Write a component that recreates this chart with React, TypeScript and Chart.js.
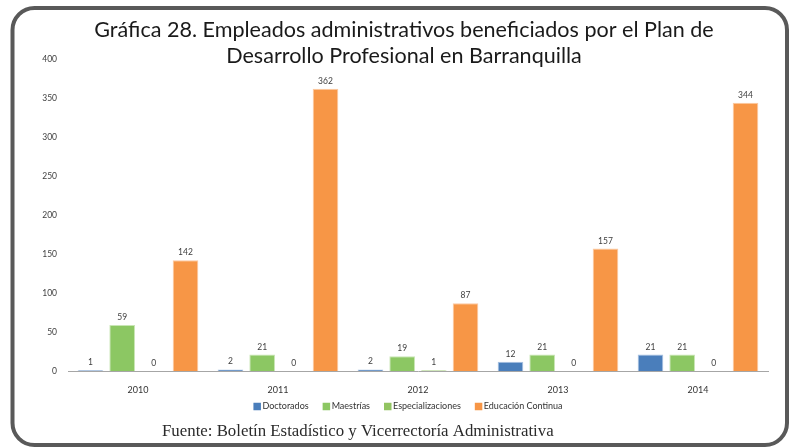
import React, { useEffect, useRef } from 'react';
import { Chart, registerables } from 'chart.js';

Chart.register(...registerables);

const categories = ['2010', '2011', '2012', '2013', '2014'];
const seriesNames = ['Doctorados', 'Maestrías', 'Especializaciones', 'Educación Continua'];
const doctorados = [1, 2, 2, 12, 21];
const maestrias = [59, 21, 19, 21, 21];
const especializaciones = [0, 0, 1, 0, 0];
const educacionContinua = [142, 362, 87, 157, 344];
const yMax = 400;
const yStep = 50;
const titleLines = [
  'Gráfica 28. Empleados administrativos beneficiados por el Plan de',
  'Desarrollo Profesional en Barranquilla',
];
const footerText = 'Fuente: Boletín Estadístico y Vicerrectoría Administrativa';

const fillColors = ['#4a7ebb', '#8cc763', '#92c462', '#f79646'];
const edgeColors = ['#a9c2e2', '#c9e6b5', '#cce6b6', '#fbc9a3'];

const SANS = 'Lato, "Open Sans", sans-serif';
const SERIF = '"Liberation Serif", "DejaVu Serif", serif';

function fitFont(ctx: CanvasRenderingContext2D, text: string, family: string, target: number, base: number) {
  ctx.font = `${base}px ${family}`;
  const w = ctx.measureText(text).width;
  return (base * target) / w;
}

const decorPlugin = {
  id: 'decor',
  beforeDraw(chart: any) {
    const ctx: CanvasRenderingContext2D = chart.ctx;
    ctx.save();
    ctx.fillStyle = '#ffffff';
    ctx.fillRect(0, 0, chart.width, chart.height);
    ctx.strokeStyle = '#595959';
    ctx.lineWidth = 4;
    ctx.beginPath();
    (ctx as any).roundRect(12.5, 8, 774.5, 437, 22);
    ctx.stroke();
    ctx.restore();
  },
  afterDatasetsDraw(chart: any) {
    const ctx: CanvasRenderingContext2D = chart.ctx;
    ctx.save();
    ctx.font = `8.5px ${SANS}`;
    ctx.fillStyle = '#404040';
    ctx.textAlign = 'center';
    ctx.textBaseline = 'alphabetic';
    chart.data.datasets.forEach((ds: any, di: number) => {
      const meta = chart.getDatasetMeta(di);
      meta.data.forEach((el: any, i: number) => {
        ctx.fillText(String(ds.data[i]), el.x, el.y - 5);
      });
    });
    ctx.restore();
  },
  afterDraw(chart: any) {
    const ctx: CanvasRenderingContext2D = chart.ctx;
    ctx.save();
    // title
    const tSize = fitFont(ctx, titleLines[0], SANS, 620, 22);
    ctx.font = `${tSize}px ${SANS}`;
    ctx.fillStyle = '#1a1a1a';
    ctx.textAlign = 'center';
    ctx.textBaseline = 'alphabetic';
    ctx.fillText(titleLines[0], 404, 37);
    ctx.fillText(titleLines[1], 404, 63);

    // legend
    ctx.font = `9px ${SANS}`;
    ctx.textAlign = 'left';
    ctx.textBaseline = 'middle';
    const box = 7.5;
    const gapAfterBox = 1.5;
    const gapItems = 14;
    const widths = seriesNames.map((n) => ctx.measureText(n).width);
    const total = widths.reduce((a, w) => a + box + gapAfterBox + w, 0) + gapItems * (seriesNames.length - 1);
    let x = 408 - total / 2;
    const cy = 406.5;
    seriesNames.forEach((n, i) => {
      ctx.fillStyle = fillColors[i];
      ctx.fillRect(x, cy - box / 2, box, box);
      ctx.fillStyle = '#333333';
      ctx.fillText(n, x + box + gapAfterBox, cy);
      x += box + gapAfterBox + widths[i] + gapItems;
    });

    // footer
    const fSize = fitFont(ctx, footerText, SERIF, 392, 15);
    ctx.font = `${fSize}px ${SERIF}`;
    ctx.fillStyle = '#2b2b2b';
    ctx.textAlign = 'left';
    ctx.textBaseline = 'alphabetic';
    ctx.fillText(footerText, 162, 436);
    ctx.restore();
  },
};

export default function App() {
  const canvasRef = useRef<HTMLCanvasElement | null>(null);

  useEffect(() => {
    const canvas = canvasRef.current;
    if (!canvas) return;
    const series = [doctorados, maestrias, especializaciones, educacionContinua];
    const chart = new Chart(canvas, {
      type: 'bar',
      data: {
        labels: categories,
        datasets: series.map((d, i) => ({
          label: seriesNames[i],
          data: d,
          backgroundColor: fillColors[i],
          borderColor: edgeColors[i],
          borderWidth: 1,
          categoryPercentage: 0.905,
          barPercentage: 0.81,
        })),
      },
      options: {
        responsive: false,
        animation: false,
        devicePixelRatio: 1,
        layout: { padding: { left: 28, right: 28, top: 59, bottom: 37 } },
        plugins: {
          legend: { display: false },
          title: { display: false },
          tooltip: { enabled: false },
        },
        scales: {
          x: {
            grid: { display: false, drawTicks: false },
            border: { display: true, color: '#a6a6a6', width: 1 },
            ticks: {
              padding: 14,
              color: '#333333',
              font: { family: SANS, size: 9 },
              maxRotation: 0,
            },
            afterFit: (scale: any) => {
              scale.height = 40;
            },
          },
          y: {
            min: 0,
            max: yMax,
            grid: { display: false, drawTicks: false },
            border: { display: false },
            ticks: {
              stepSize: yStep,
              padding: 11,
              color: '#404040',
              font: { family: SANS, size: 8.5 },
            },
            afterFit: (scale: any) => {
              scale.width = 40;
            },
          },
        },
      },
      plugins: [decorPlugin],
    });
    return () => chart.destroy();
  }, []);

  return (
    <div style={{ position: 'absolute', left: 0, top: 0, width: 796, height: 448 }}>
      <canvas ref={canvasRef} width={796} height={448} style={{ display: 'block', width: 796, height: 448 }} />
    </div>
  );
}
